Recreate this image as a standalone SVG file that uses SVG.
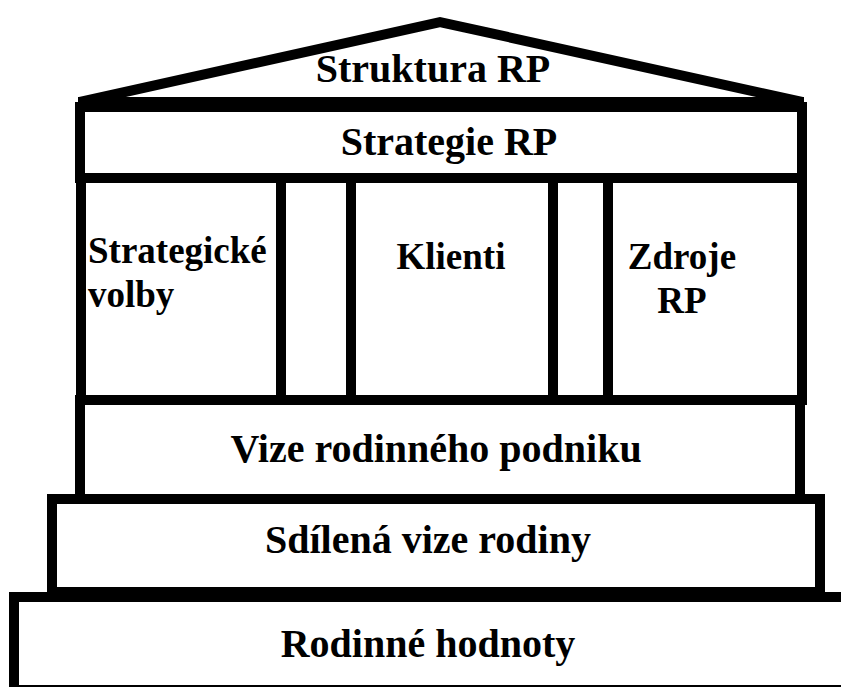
<svg xmlns="http://www.w3.org/2000/svg" width="841" height="687" viewBox="0 0 841 687">
<style>
.box{fill:#fff;stroke:#000;stroke-width:10}
.ln{fill:none;stroke:#000;stroke-width:10}
.t{font-family:"Liberation Serif","Times New Roman",serif;font-weight:bold;font-size:40px;fill:#000;text-anchor:middle}
.s{font-size:37px}
</style>
<rect width="841" height="687" fill="#fff"/>
<g id="rodinne-hodnoty">
<rect class="box" x="14" y="597" width="850" height="93"/>
<text class="t" x="428" y="657">Rodinné hodnoty</text>
</g>
<g id="sdilena-vize">
<rect class="box" x="52" y="499" width="768" height="93"/>
<text class="t" x="428" y="553">Sdílená vize rodiny</text>
</g>
<g id="vize-podniku">
<rect class="box" x="80" y="400" width="720" height="99"/>
<text class="t" x="436" y="462">Vize rodinného podniku</text>
</g>
<g id="sloupy">
<rect class="box" x="81" y="178" width="721" height="222"/>
<g id="strategicke-volby">
<line class="ln" x1="281" y1="178" x2="281" y2="400"/>
<text class="t s" x="88" y="263" style="text-anchor:start">Strategické</text>
<text class="t s" x="88" y="307" style="text-anchor:start">volby</text>
</g>
<g id="klienti">
<line class="ln" x1="351" y1="178" x2="351" y2="400"/>
<line class="ln" x1="553" y1="178" x2="553" y2="400"/>
<text class="t s" x="451" y="269">Klienti</text>
</g>
<g id="zdroje-rp">
<line class="ln" x1="608" y1="178" x2="608" y2="400"/>
<text class="t s" x="682" y="269">Zdroje</text>
<text class="t s" x="682" y="313">RP</text>
</g>
</g>
<g id="strategie-rp">
<rect class="box" x="80" y="107" width="722" height="71"/>
<text class="t" x="449" y="155">Strategie RP</text>
</g>
<g id="struktura-rp">
<polyline class="ln" points="80,102 440,22 802,102" stroke-linejoin="miter"/>
<line class="ln" x1="78" y1="102" x2="804" y2="102"/>
<text class="t" x="433" y="82">Struktura RP</text>
</g>
</svg>
